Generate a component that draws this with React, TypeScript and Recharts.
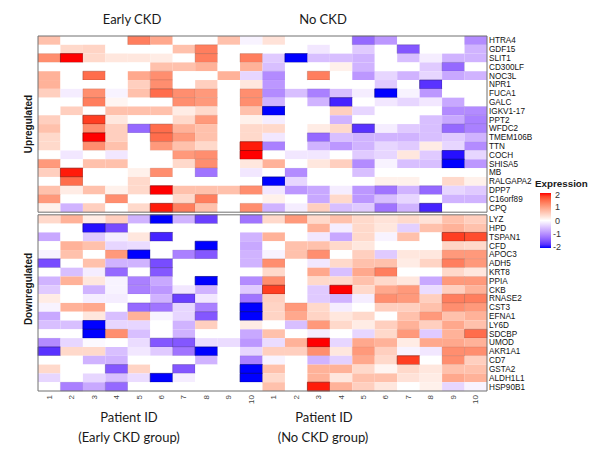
import React from 'react';
import { ScatterChart, Scatter, XAxis, YAxis, ReferenceArea } from 'recharts';

// ---- gene lists -------------------------------------------------------------
const upregulatedGenes = [
  'HTRA4', 'GDF15', 'SLIT1', 'CD300LF', 'NOC3L', 'NPR1', 'FUCA1', 'GALC', 'IGKV1-17', 'PPT2',
  'WFDC2', 'TMEM106B', 'TTN', 'COCH', 'SHISA5', 'MB', 'RALGAPA2', 'DPP7', 'C16orf89', 'CPQ',
];
const downregulatedGenes = [
  'LYZ', 'HPD', 'TSPAN1', 'CFD', 'APOC3', 'ADH5', 'KRT8', 'PPIA', 'CKB', 'RNASE2',
  'CST3', 'EFNA1', 'LY6D', 'SDCBP', 'UMOD', 'AKR1A1', 'CD7', 'GSTA2', 'ALDH1L1', 'HSP90B1',
];
const patientIds = ['1', '2', '3', '4', '5', '6', '7', '8', '9', '10'];
const legendTicks = [2, 1, 0, -1, -2];

// ---- scaled expression, one row per gene, one column per patient -------------
const upEarlyCkd: number[][] = [
  [0.65, 0, 0, 0, 1.3, 0.9, 0, 0, 0.65, -0.1],
  [0, 0.4, 0.45, 0, 0, 0, 0.65, 1.3, 0, 0],
  [1.15, 2.0, 0.4, 0.25, 0.25, 0.2, 0, 1.3, 0, 1.3],
  [0, 0, 0, 0, 0, 0.65, 0.65, 0.8, 0, 0.8],
  [0.8, 0, 1.45, 0, 0.9, 1.15, 0, 0, 0.8, -0.35],
  [0.8, 0, 0, 0, 0.5, 1.15, 0, 0.5, 0, 0.25],
  [0.5, -0.15, 1.15, -0.1, 0.65, 1.45, 1.15, 1.05, 0, 1.15],
  [0, 0, 1.3, 0.1, 0, 0, 1.15, 1.05, 0, 1.15],
  [0, 0.5, 0, 0.65, 0.65, 0.65, 0.2, 0.4, 0, 0.65],
  [0.5, 0, 1.8, 0.25, 0, 0, 0.4, 1.05, 0, 0.15],
  [0.65, 0, 1.15, 0.5, -1.3, 1.45, 0.8, 0.65, 0, 0.4],
  [0.4, 0, 2.0, 0.5, 0, 1.45, 1.05, 0.65, 0, 0.4],
  [0.4, 0, 1.15, 0.65, 0, 1.05, 0.65, 0.4, 0, 1.95],
  [0, -0.2, 0, -0.2, 0, 0, 1.05, 1.15, 0, 2.0],
  [1.05, 0, 0.65, 0.65, 0, 0, 0.4, 1.15, 0, 0.25],
  [0.5, 1.95, 0, 0, 0.15, 1.15, 0, -1.2, 0, -0.2],
  [0, 1.45, 0, 0, 0.4, 0, 0, 0, 0, 0],
  [0.65, 0.2, 0.65, 0.15, 0.4, 2.0, 0.65, 0.65, 0.65, 1.15],
  [1.05, 0, 0, 1.15, 0, 0, 0.4, 1.3, 0, 0],
  [0.15, -0.65, 0.5, 0, 0.4, 1.95, 1.3, 0.65, 0, 1.15],
];
const upNoCkd: number[][] = [
  [0.3, 0, 0, 0, -1.3, -0.9, 0, 0, 0, -1.0],
  [0, 0, -0.2, 0, -0.45, 0, -1.45, 0, 0, -0.65],
  [-0.45, -2.0, -0.55, -0.55, -0.65, 0, -0.55, -0.15, -0.65, -0.65],
  [-0.55, 0, 0, 0.15, -0.65, 0, 0, -0.45, -1.3, 0],
  [-1.0, 0, 1.3, 0, -0.9, -0.35, -0.65, -0.35, -0.75, -0.65],
  [-0.9, 0, 0, 0, 0, -0.45, 0, -1.75, 0, 0],
  [-1.0, -0.55, -1.1, -0.55, -0.15, -2.0, -0.1, -0.9, 0, 0],
  [-0.65, 0, -0.65, -1.85, 0, -0.2, -0.35, -0.2, -0.75, 0],
  [-2.0, 0, 0, 0.5, -0.35, 0, 0, 0, -1.0, -1.0],
  [-0.15, 0, 0, -0.65, 0, 0, 0, -0.55, -0.75, -1.1],
  [0.4, 0, 0.2, 0.4, -1.75, -0.15, -0.45, -0.55, -1.3, -1.1],
  [-0.2, 0, -1.3, -0.55, -0.65, -0.65, -0.65, -0.55, -0.45, -0.65],
  [-1.1, 0, -0.65, -0.9, -0.65, -0.35, -0.45, 0.2, -0.35, -1.0],
  [0, -0.2, -0.2, 0, -0.45, -0.35, 0.25, -0.45, -1.95, -0.35],
  [0.8, 0, 0.25, 0.5, -1.0, -0.1, -0.55, -0.55, -2.0, -0.9],
  [0, -1.0, 0, 0, -0.55, 0, 0, 0, 0, 0],
  [-2.0, -0.35, 0, 0, 0, 0.15, 0.15, 0, 0.4, 0.15],
  [-0.2, -0.9, -0.75, -0.15, -0.9, -1.2, -0.65, -1.3, -0.35, -0.45],
  [0.15, 0, -0.75, 0.4, -0.9, -0.55, -0.35, 0, -0.65, -0.65],
  [-0.65, -0.15, 0.5, -0.55, -0.45, -1.2, -0.65, -1.85, 0, 0],
];
const downEarlyCkd: number[][] = [
  [0.4, 0.8, 0.2, 0.5, -0.65, -2.0, -0.65, -1.65, 0, -1.2],
  [0, 0, -1.95, -1.55, 0, 0, 0, 0, 0, 0],
  [-0.75, 0, -0.45, -0.15, 0.25, -1.85, 0, 0, 0, -0.65],
  [0, 0.8, 0.65, -0.35, -0.3, 0, 0, -2.0, 0, -0.75],
  [-0.1, 0.65, 0, 1.05, -2.0, 0, -1.1, -1.45, 0, -0.65],
  [-1.55, 0, 0.65, -0.65, -0.65, -1.55, 0, 0, 0, -0.65],
  [0, -0.55, -0.15, -1.3, 0, -1.45, 0, 0, 0, 0],
  [-0.65, 0.8, 0.25, -0.1, -1.1, -0.75, 0, -2.0, 0, -1.0],
  [-0.45, 0, -0.65, -0.1, -1.1, -0.9, -0.2, -0.65, 0, -0.45],
  [0.2, 0, -0.15, -0.15, 0, -0.65, -1.65, -0.2, 0, -1.2],
  [-0.1, 0.8, 0.9, 0, -1.3, -1.2, -0.35, -1.1, 0, -2.0],
  [-0.75, 0, 0.25, -0.55, 0.8, -0.1, -0.35, -1.45, 0, -2.0],
  [-0.55, -0.55, -2.0, -0.35, -0.35, 0, -0.65, 0.5, 0, 0.2],
  [0, 0, -2.0, 1.15, -0.55, 0, -0.65, 0, 0, -0.75],
  [-1.0, -0.35, -0.05, 0, -0.3, -1.45, -1.45, -0.3, -0.3, -0.9],
  [-1.75, 0.4, 0.4, -0.55, -0.2, -0.45, -1.2, -2.0, 0, -0.35],
  [0, 0, -0.65, -0.65, 0, 0, 0, -0.65, 0, -1.1],
  [0.4, 0, 0, -1.45, 0.45, 0, -1.45, 0, 0, -2.0],
  [-0.35, 0, -0.35, -0.55, -0.3, -2.0, -0.15, 0, 0, -2.0],
  [0, -1.1, -0.75, -1.3, 0, 0, 0, 0, 0, 0],
];
const downNoCkd: number[][] = [
  [0.4, 1.05, 0.4, 0.65, 0.4, 0.3, 0.4, 0.3, 0.65, 0.5],
  [0, 0, 0.8, -0.15, 0.4, 0.25, -0.4, 0.65, 0.8, 0.65],
  [0.8, 0, -0.2, -0.75, 0.4, -0.1, 0.65, 0, 1.8, 1.7],
  [0, 0.65, 0.65, 0.4, 0.25, 0, 0, 0, 0.45, 0.4],
  [-0.1, 0.65, 1.15, 0, 0.5, -0.45, 0.25, 0.25, 1.05, 1.05],
  [1.15, 0, -0.2, 0.4, 0.65, 0.65, 0.2, 0.45, 1.3, 1.05],
  [0.4, 0, 0.9, -0.55, 0.9, 1.3, 0, 0, 0.4, 0.25],
  [1.15, 0, 0.4, 0.4, 0.65, 0.4, 0.25, -0.75, 1.05, 1.05],
  [1.8, 0, -0.45, 2.0, 0.4, 0.9, 1.05, -0.3, 0.5, 0.8],
  [0.5, 0, -0.45, -0.65, -0.15, 1.15, 1.05, 0.5, 1.3, 1.3],
  [0.45, 1.05, 0.4, -0.15, 0, 0.5, 0.5, 0.65, 1.15, 1.05],
  [0.45, 0.9, 0.45, 0.25, 0.4, 0, 0.65, 1.05, 0.65, 0.8],
  [0, -0.55, 1.05, 0.4, 0.2, 0.5, 0.8, 0.5, 0.9, 0.65],
  [0.65, 0, -0.15, 0, -0.35, 0.4, 1.05, -0.45, 0.8, 1.45],
  [-0.3, 0.8, 2.0, -0.35, 0.9, 0.8, 0.2, 0.9, 0.9, 0.8],
  [0.5, 0.5, 1.15, 0.25, 1.05, 0.5, -0.1, -0.2, 1.15, 1.15],
  [-0.1, 0, -0.65, -0.4, 0.9, 0.4, 1.8, 0, 1.15, 0.5],
  [0.65, 0, 0.8, 0.8, 0.4, 0.1, 0.4, 0.25, 0.65, 0.65],
  [0.4, 0, 0.8, 0.25, 0.65, 0.65, 0.3, 0.2, 0.9, 0.8],
  [0.65, 0, 1.95, 0.8, 0.5, 0.25, 0, 0.15, -0.35, -0.1],
];

// ---- layout -----------------------------------------------------------------
const WIDTH = 602;
const HEIGHT = 464;
const ROWS = 20;
const COLS = 20;
const PANEL_GAP = 0.3; // in row units
const Y_MAX = ROWS * 2 + PANEL_GAP;
const FONT = "'Liberation Sans', Arial, sans-serif";
const TITLE_FONT = "Lato, 'Liberation Sans', sans-serif";

// ---- colour ramp blue -> white -> red, interpolated in CIE Lab ----------------
type Lab = [number, number, number];
const lin = (c: number) => {
  const s = c / 255;
  return s <= 0.04045 ? s / 12.92 : Math.pow((s + 0.055) / 1.055, 2.4);
};
const gam = (c: number) => {
  const s = c <= 0.0031308 ? 12.92 * c : 1.055 * Math.pow(c, 1 / 2.4) - 0.055;
  return Math.round(Math.max(0, Math.min(1, s)) * 255);
};
const XN = 0.95047, YN = 1, ZN = 1.08883;
function rgbToLab([r, g, b]: number[]): Lab {
  const R = lin(r), G = lin(g), B = lin(b);
  const X = (0.4124 * R + 0.3576 * G + 0.1805 * B) / XN;
  const Y = (0.2126 * R + 0.7152 * G + 0.0722 * B) / YN;
  const Z = (0.0193 * R + 0.1192 * G + 0.9505 * B) / ZN;
  const f = (t: number) => (t > 0.008856 ? Math.cbrt(t) : 7.787 * t + 16 / 116);
  const fx = f(X), fy = f(Y), fz = f(Z);
  return [116 * fy - 16, 500 * (fx - fy), 200 * (fy - fz)];
}
function labToRgb([L, a, b]: Lab): number[] {
  const fy = (L + 16) / 116;
  const fx = fy + a / 500;
  const fz = fy - b / 200;
  const inv = (t: number) => (t ** 3 > 0.008856 ? t ** 3 : (t - 16 / 116) / 7.787);
  const X = inv(fx) * XN, Y = inv(fy) * YN, Z = inv(fz) * ZN;
  const R = 3.2406 * X - 1.5372 * Y - 0.4986 * Z;
  const G = -0.9689 * X + 1.8758 * Y + 0.0415 * Z;
  const B = 0.0557 * X - 0.204 * Y + 1.057 * Z;
  return [gam(R), gam(G), gam(B)];
}
const LAB_BLUE = rgbToLab([0, 0, 255]);
const LAB_WHITE = rgbToLab([255, 255, 255]);
const LAB_RED = rgbToLab([255, 0, 0]);

function expressionRgb(v: number): number[] {
  const t = Math.max(-2, Math.min(2, v)) / 2;
  const end = t < 0 ? LAB_BLUE : LAB_RED;
  const k = Math.abs(t);
  const lab: Lab = [0, 1, 2].map((i) => LAB_WHITE[i] + (end[i] - LAB_WHITE[i]) * k) as Lab;
  return labToRgb(lab);
}
const rgbStr = (c: number[]) => `rgb(${c[0]},${c[1]},${c[2]})`;
const expressionColor = (v: number) => rgbStr(expressionRgb(v));
const edgeColor = (v: number) => rgbStr(expressionRgb(v).map((c) => Math.round(c * 0.55)));

// ---- cell table built from the matrices ------------------------------------
type Cell = { x: number; y: number; col: number; row: number; v: number };
const cells: Cell[] = [];
const addPanel = (early: number[][], noCkd: number[][], rowOffset: number) => {
  early.forEach((vals, r) => {
    const full = [...vals, ...noCkd[r]];
    full.forEach((v, c) => {
      cells.push({ x: c + 0.5, y: rowOffset + r + 0.5, col: c, row: rowOffset + r, v });
    });
  });
};
addPanel(upEarlyCkd, upNoCkd, 0);
addPanel(downEarlyCkd, downNoCkd, ROWS + PANEL_GAP);

const xTicks = Array.from({ length: COLS }, (_, i) => i + 0.5);
const yTicks = [
  ...upregulatedGenes.map((_, i) => i + 0.5),
  ...downregulatedGenes.map((_, i) => ROWS + PANEL_GAP + i + 0.5),
];
const geneLabel = (v: number) =>
  v < ROWS ? upregulatedGenes[Math.floor(v)] : downregulatedGenes[Math.floor(v - ROWS - PANEL_GAP)];

const PatientTick = (props: any) => {
  const { x, y, payload } = props;
  const label = patientIds[Math.floor(payload.value) % patientIds.length];
  return (
    <text
      x={x}
      y={y}
      transform={`rotate(-90 ${x} ${y})`}
      textAnchor="end"
      dominantBaseline="central"
      fontSize={8}
      fontFamily={FONT}
      fill="#444"
    >
      {label}
    </text>
  );
};

const EmptyShape = () => <g />;

// ---- legend geometry --------------------------------------------------------
const BAR_X = 540;
const BAR_W = 11;
const BAR_TOP = 193;
const BAR_H = 55;
const legendY = (v: number) => BAR_TOP + ((2 - v) / 4) * BAR_H;
const gradientStops = Array.from({ length: 17 }, (_, i) => 2 - i * 0.25);

export default function App() {
  return (
    <div style={{ position: 'absolute', left: 0, top: 0, width: WIDTH, height: HEIGHT, background: '#fff' }}>
      <ScatterChart width={WIDTH} height={HEIGHT} margin={{ top: 36, right: 0, bottom: 43, left: 38 }}>
        <XAxis
          type="number"
          dataKey="x"
          domain={[0, COLS]}
          ticks={xTicks}
          interval={0}
          axisLine={false}
          tickLine={false}
          tickSize={0}
          tickMargin={4}
          height={30}
          tick={<PatientTick />}
        />
        <YAxis
          type="number"
          dataKey="y"
          orientation="right"
          domain={[0, Y_MAX]}
          reversed
          ticks={yTicks}
          interval={0}
          axisLine={false}
          tickLine={false}
          tickSize={0}
          tickMargin={2}
          width={115}
          tickFormatter={geneLabel}
          tick={{ fontSize: 8.2, fill: '#111', fontFamily: FONT }}
        />
        {cells.map((c, i) => {
          const strength = Math.max(0, Math.min(1, (Math.abs(c.v) - 0.9) / 0.9));
          return (
            <ReferenceArea
              key={i}
              x1={c.col}
              x2={c.col + 1}
              y1={c.row}
              y2={c.row + 1}
              fill={expressionColor(c.v)}
              fillOpacity={1}
              stroke={edgeColor(c.v)}
              strokeOpacity={strength * 0.85}
              strokeWidth={0.8}
              ifOverflow="visible"
            />
          );
        })}
        <ReferenceArea x1={0} x2={COLS} y1={0} y2={ROWS} fill="none" fillOpacity={0} stroke="#707070" strokeWidth={1} ifOverflow="visible" />
        <ReferenceArea
          x1={0}
          x2={COLS}
          y1={ROWS + PANEL_GAP}
          y2={Y_MAX}
          fill="none"
          fillOpacity={0}
          stroke="#707070"
          strokeWidth={1}
          ifOverflow="visible"
        />
        <Scatter data={cells} dataKey="y" shape={EmptyShape} isAnimationActive={false} legendType="none" />
      </ScatterChart>

      <svg
        width={WIDTH}
        height={HEIGHT}
        style={{ position: 'absolute', left: 0, top: 0, pointerEvents: 'none' }}
      >
        <defs>
          <linearGradient id="exprGradient" x1="0" y1="0" x2="0" y2="1">
            {gradientStops.map((v, i) => (
              <stop key={i} offset={`${(i / (gradientStops.length - 1)) * 100}%`} stopColor={expressionColor(v)} />
            ))}
          </linearGradient>
        </defs>

        {/* group titles */}
        <g fontFamily={TITLE_FONT} fontSize={13} fill="#1a1a1a" textAnchor="middle">
          <text x={132} y={19} dominantBaseline="central">Early CKD</text>
          <text x={323} y={19} dominantBaseline="central">No CKD</text>
          <text x={129} y={417} dominantBaseline="central">Patient ID</text>
          <text x={129} y={437} dominantBaseline="central">(Early CKD group)</text>
          <text x={324} y={417} dominantBaseline="central">Patient ID</text>
          <text x={323} y={437} dominantBaseline="central">(No CKD group)</text>
        </g>

        {/* panel labels */}
        <g fontFamily={FONT} fontSize={10} fontWeight="bold" fill="#1a1a1a" textAnchor="middle">
          <text x={28} y={124} transform="rotate(-90 28 124)" dominantBaseline="central">Upregulated</text>
          <text x={28} y={289} transform="rotate(-90 28 289)" dominantBaseline="central">Downregulated</text>
        </g>

        {/* colour key */}
        <text x={535} y={183} fontFamily={FONT} fontSize={9.8} fontWeight="bold" fill="#1a1a1a" dominantBaseline="central">
          Expression
        </text>
        <rect x={BAR_X} y={BAR_TOP} width={BAR_W} height={BAR_H} fill="url(#exprGradient)" />
        {legendTicks.map((v) => (
          <text
            key={v}
            x={v < 0 ? 553 : 555}
            y={legendY(v) + (v === 2 ? 1.5 : v === -2 ? -1.5 : 0)}
            fontFamily={FONT}
            fontSize={9}
            fill="#333"
            dominantBaseline="central"
          >
            {v}
          </text>
        ))}
      </svg>
    </div>
  );
}
